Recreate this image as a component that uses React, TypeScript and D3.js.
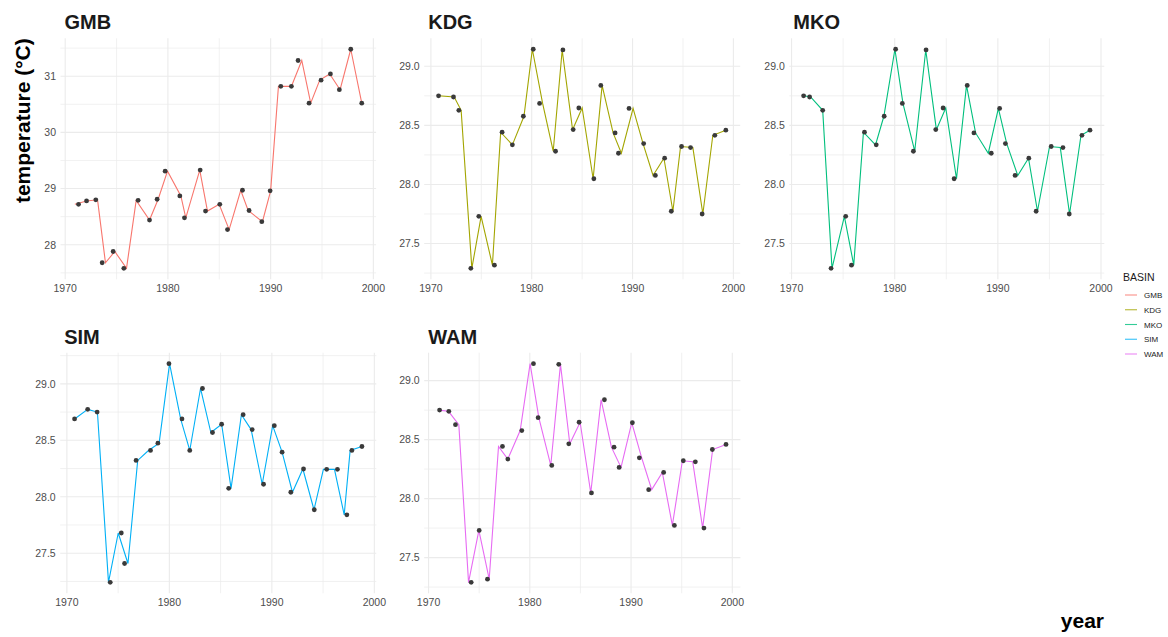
import React from "react";
import * as d3 from "d3";

// ---------- data ----------
const years = [1971, 1972, 1973, 1974, 1975, 1976, 1977, 1978, 1979, 1980, 1981, 1982, 1983, 1984, 1985, 1986, 1987, 1988, 1989, 1990, 1991, 1992, 1993, 1994, 1995, 1996, 1997, 1998, 1999];

const basins = ["GMB", "KDG", "MKO", "SIM", "WAM"];
const basinColors = ["#F8766D", "#A3A500", "#00BF7D", "#00B0F6", "#E76BF3"];

const gmbTemp = [28.72, 28.78, 28.8, 27.68, 27.88, 27.58, 28.79, 28.44, 28.81, 29.31, 28.87, 28.48, 29.33, 28.6, 28.72, 28.27, 28.97, 28.61, 28.41, 28.96, 30.82, 30.82, 31.28, 30.52, 30.93, 31.04, 30.76, 31.48, 30.52];
const gmbPointYear = [1971.3, 1972.08, 1972.98, 1973.6, 1974.67, 1975.71, 1977.1, 1978.21, 1978.95, 1979.73, 1981.16, 1981.61, 1983.14, 1983.66, 1985.05, 1985.8, 1987.26, 1987.9, 1989.14, 1989.95, 1990.99, 1992.02, 1992.67, 1993.74, 1994.91, 1995.82, 1996.69, 1997.8, 1998.87];
const gmbLineYear = [1970.94, 1972.08, 1973.15, 1973.92, 1974.83, 1975.97, 1976.91, 1978.21, 1979.05, 1979.96, 1981.26, 1981.74, 1983.1, 1983.85, 1984.99, 1985.96, 1987.09, 1987.81, 1989.2, 1990.0, 1990.76, 1992.02, 1993.03, 1993.9, 1994.78, 1995.75, 1996.76, 1997.8, 1998.87];

const kdgTemp = [28.75, 28.74, 28.627, 27.29, 27.73, 27.317, 28.442, 28.335, 28.577, 29.144, 28.686, 28.281, 29.138, 28.464, 28.647, 28.048, 28.838, 28.436, 28.264, 28.643, 28.346, 28.076, 28.222, 27.773, 28.321, 28.312, 27.75, 28.416, 28.459];
const kdgPointYear = [1970.76, 1972.24, 1972.77, 1973.96, 1974.75, 1976.3, 1977.06, 1978.08, 1979.17, 1980.15, 1980.78, 1982.36, 1983.09, 1984.11, 1984.67, 1986.16, 1986.85, 1988.27, 1988.6, 1989.65, 1991.1, 1992.26, 1993.18, 1993.84, 1994.86, 1995.75, 1996.9, 1998.16, 1999.25];
const kdgLineYear = [1970.76, 1972.31, 1973.0, 1974.06, 1974.98, 1976.1, 1976.92, 1978.08, 1979.23, 1980.06, 1981.08, 1982.13, 1983.02, 1984.05, 1985.0, 1986.09, 1986.98, 1988.07, 1988.89, 1990.05, 1991.04, 1992.03, 1993.11, 1994.0, 1994.76, 1995.98, 1996.97, 1997.96, 1999.25];

const mkoTemp = [28.75, 28.74, 28.627, 27.29, 27.73, 27.317, 28.442, 28.335, 28.577, 29.144, 28.686, 28.281, 29.138, 28.464, 28.647, 28.048, 28.838, 28.436, 28.264, 28.643, 28.346, 28.076, 28.222, 27.773, 28.321, 28.312, 27.75, 28.416, 28.459];
const mkoPointYear = [1971.17, 1971.75, 1973.02, 1973.83, 1975.25, 1975.81, 1977.07, 1978.21, 1978.98, 1980.09, 1980.74, 1981.81, 1983.04, 1983.98, 1984.69, 1985.76, 1987.03, 1987.68, 1989.36, 1990.17, 1990.73, 1991.67, 1993.0, 1993.71, 1995.17, 1996.31, 1996.92, 1998.15, 1998.93];
const mkoLineYear = [1971.17, 1971.85, 1973.02, 1973.92, 1975.12, 1976.03, 1976.97, 1978.14, 1978.95, 1980.02, 1980.8, 1981.94, 1983.01, 1984.04, 1984.95, 1985.99, 1986.96, 1987.84, 1989.07, 1990.05, 1990.86, 1991.93, 1992.97, 1993.84, 1995.01, 1996.05, 1996.95, 1998.06, 1998.93];

const simTemp = [28.689, 28.774, 28.75, 27.242, 27.679, 27.409, 28.322, 28.41, 28.475, 29.179, 28.689, 28.41, 28.959, 28.569, 28.642, 28.075, 28.727, 28.595, 28.111, 28.63, 28.395, 28.04, 28.246, 27.885, 28.243, 28.243, 27.84, 28.41, 28.445];
const simPointYear = [1970.75, 1972.03, 1972.95, 1974.23, 1975.31, 1975.63, 1976.75, 1978.16, 1978.88, 1979.96, 1981.23, 1981.99, 1983.23, 1984.21, 1985.1, 1985.79, 1987.2, 1988.08, 1989.19, 1990.24, 1991.0, 1991.85, 1993.09, 1994.14, 1995.35, 1996.4, 1997.32, 1997.81, 1998.79];
const simLineYear = [1970.75, 1972.03, 1972.98, 1974.06, 1975.01, 1975.96, 1976.91, 1977.96, 1979.0, 1980.02, 1981.1, 1981.99, 1983.04, 1984.05, 1985.1, 1986.02, 1987.03, 1987.98, 1989.06, 1990.08, 1991.0, 1992.01, 1993.03, 1994.11, 1995.03, 1996.11, 1997.06, 1997.64, 1998.79];

const wamTemp = [28.75, 28.74, 28.627, 27.29, 27.73, 27.317, 28.442, 28.335, 28.577, 29.144, 28.686, 28.281, 29.138, 28.464, 28.647, 28.048, 28.838, 28.436, 28.264, 28.643, 28.346, 28.076, 28.222, 27.773, 28.321, 28.312, 27.75, 28.416, 28.459];
const wamPointYear = [1971.09, 1972.0, 1972.66, 1974.21, 1975.0, 1975.82, 1977.3, 1977.83, 1979.21, 1980.36, 1980.82, 1982.17, 1982.86, 1983.85, 1984.87, 1986.09, 1987.37, 1988.32, 1988.82, 1990.13, 1990.82, 1991.74, 1993.22, 1994.28, 1995.16, 1996.35, 1997.2, 1998.03, 1999.38];
const wamLineYear = [1970.99, 1971.97, 1972.99, 1973.95, 1974.97, 1975.99, 1976.91, 1977.83, 1979.05, 1980.03, 1980.89, 1982.07, 1983.03, 1983.95, 1984.97, 1986.02, 1987.04, 1988.06, 1989.01, 1990.07, 1991.05, 1992.04, 1993.09, 1994.08, 1995.07, 1996.09, 1997.07, 1998.06, 1999.38];

const xBreaks = [1970, 1980, 1990, 2000];
const xMinorBreaks = [1975, 1985, 1995];

const yAxisTitle = "temperature (°C)";
const xAxisTitle = "year";
const legendTitle = "BASIN";

// ---------- layout ----------
const W = 1168;
const H = 637;
const FONT = "'Liberation Sans', Arial, Helvetica, sans-serif";
const GRID = "#EBEBEB";
const TICK = "#4D4D4D";

const seriesList = [
  { temp: gmbTemp, pointYear: gmbPointYear, lineYear: gmbLineYear },
  { temp: kdgTemp, pointYear: kdgPointYear, lineYear: kdgLineYear },
  { temp: mkoTemp, pointYear: mkoPointYear, lineYear: mkoLineYear },
  { temp: simTemp, pointYear: simPointYear, lineYear: simLineYear },
  { temp: wamTemp, pointYear: wamPointYear, lineYear: wamLineYear },
];

const panelBoxes = [
  { x: 60.5, y: 38.3, w: 315.6, h: 241 },
  { x: 424.2, y: 38.3, w: 316, h: 241 },
  { x: 789.3, y: 38.3, w: 315, h: 241 },
  { x: 60.2, y: 352.7, w: 316.1, h: 240.6 },
  { x: 424.2, y: 352.7, w: 316.2, h: 240.6 },
];

function expand(ext: [number, number]): [number, number] {
  const r = ext[1] - ext[0];
  return [ext[0] - 0.05 * r, ext[1] + 0.05 * r];
}

function Panel({ idx }: { idx: number }) {
  const s = seriesList[idx];
  const box = panelBoxes[idx];
  const color = basinColors[idx];
  const xExt = d3.extent([...s.pointYear, ...s.lineYear]) as [number, number];
  const x = d3.scaleLinear().domain(expand(xExt)).range([box.x, box.x + box.w]);
  const yExt = d3.extent(s.temp) as [number, number];
  const yDom = expand(yExt);
  const y = d3.scaleLinear().domain(yDom).range([box.y + box.h, box.y]);
  const yTicks = y.ticks(5);
  const step = yTicks[1] - yTicks[0];
  const fmt = d3.format(step < 1 ? ".1f" : "d");
  const yMinor: number[] = [];
  for (let v = yTicks[0] - step / 2; v <= yTicks[yTicks.length - 1] + step / 2 + 1e-9; v += step) {
    if (v >= yDom[0] && v <= yDom[1]) yMinor.push(v);
  }
  const xDom = x.domain();
  const xMaj = xBreaks.filter((v) => v >= xDom[0] && v <= xDom[1]);
  const xMin = xMinorBreaks.filter((v) => v >= xDom[0] && v <= xDom[1]);

  const line = d3
    .line<number>()
    .x((_, i) => x(s.lineYear[i]))
    .y((d) => y(d));

  const x0 = box.x;
  const x1 = box.x + box.w;
  const y0 = box.y;
  const y1 = box.y + box.h;

  return (
    <g>
      {yMinor.map((v, i) => (
        <line key={"ym" + i} x1={x0} x2={x1} y1={y(v)} y2={y(v)} stroke={GRID} strokeWidth={0.7} />
      ))}
      {xMin.map((v, i) => (
        <line key={"xm" + i} x1={x(v)} x2={x(v)} y1={y0} y2={y1} stroke={GRID} strokeWidth={0.7} />
      ))}
      {yTicks.map((v, i) => (
        <line key={"yM" + i} x1={x0} x2={x1} y1={y(v)} y2={y(v)} stroke={GRID} strokeWidth={1.1} />
      ))}
      {xMaj.map((v, i) => (
        <line key={"xM" + i} x1={x(v)} x2={x(v)} y1={y0} y2={y1} stroke={GRID} strokeWidth={1.1} />
      ))}
      <path d={line(s.temp) || ""} fill="none" stroke={color} strokeWidth={1.1} />
      {s.temp.map((v, i) => (
        <circle key={"p" + i} cx={x(s.pointYear[i])} cy={y(v)} r={2.4} fill="#3a3a3a" />
      ))}
      {yTicks.map((v, i) => (
        <text key={"yl" + i} x={x0 - 4.5} y={y(v) + 3.8} textAnchor="end" fontSize={10.5} fill={TICK} fontFamily={FONT}>
          {fmt(v)}
        </text>
      ))}
      {xMaj.map((v, i) => (
        <text key={"xl" + i} x={x(v)} y={y1 + 13} textAnchor="middle" fontSize={10.5} fill={TICK} fontFamily={FONT}>
          {v}
        </text>
      ))}
      <text x={x0 + 4} y={y0 - 9} fontSize={20} fontWeight="bold" fill="#1a1a1a" fontFamily={FONT}>
        {basins[idx]}
      </text>
    </g>
  );
}

export default function App() {
  return (
    <svg
      width={W}
      height={H}
      viewBox={`0 0 ${W} ${H}`}
      style={{ position: "absolute", left: 0, top: 0, background: "#fff" }}
    >
      <rect x={0} y={0} width={W} height={H} fill="#fff" />
      {basins.map((_, i) => (
        <Panel key={i} idx={i} />
      ))}
      <text
        transform="translate(30,38.3) rotate(-90)"
        textAnchor="end"
        fontSize={21}
        fontWeight="bold"
        fill="#000"
        fontFamily={FONT}
      >
        {yAxisTitle}
      </text>
      <text x={1104} y={628} textAnchor="end" fontSize={21} fontWeight="bold" fill="#000" fontFamily={FONT}>
        {xAxisTitle}
      </text>
      <g>
        <text x={1123} y={281} fontSize={10.5} fill="#1a1a1a" fontFamily={FONT}>
          {legendTitle}
        </text>
        {basins.map((b, i) => (
          <g key={b}>
            <line x1={1125} x2={1137} y1={295 + i * 14.75} y2={295 + i * 14.75} stroke={basinColors[i]} strokeWidth={1.1} strokeOpacity={0.8} />
            <text x={1144} y={295 + i * 14.75 + 3} fontSize={8} fill="#1a1a1a" fontFamily={FONT}>
              {b}
            </text>
          </g>
        ))}
      </g>
    </svg>
  );
}
